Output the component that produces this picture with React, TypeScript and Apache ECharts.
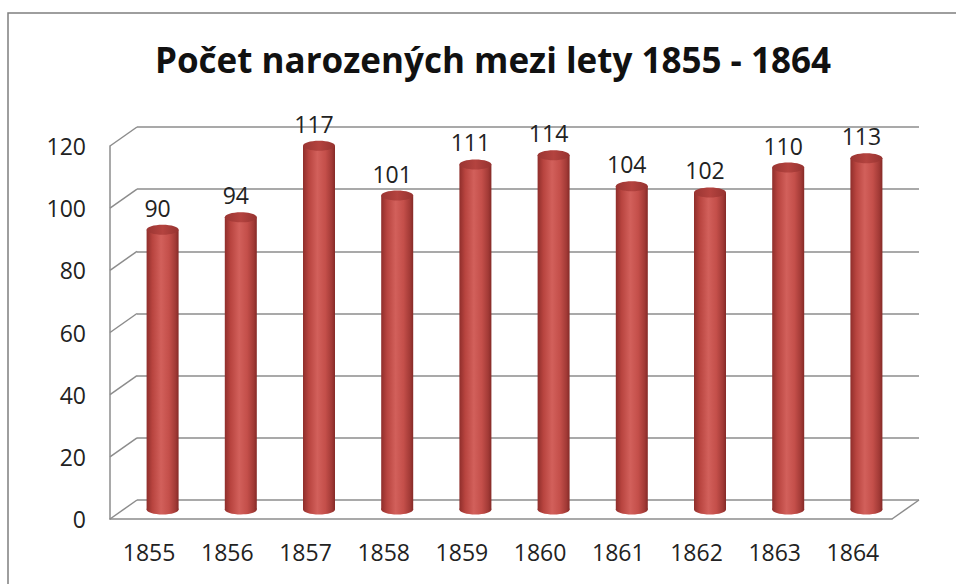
import React, { useEffect, useRef } from "react";
import * as echarts from "echarts";

const TITLE = "Počet narozených mezi lety 1855 - 1864";
const years = ["1855", "1856", "1857", "1858", "1859", "1860", "1861", "1862", "1863", "1864"];
const births = [90, 94, 117, 101, 111, 114, 104, 102, 110, 113];
const yTicks = [0, 20, 40, 60, 80, 100, 120];

const FONT = "'Open Sans', 'Liberation Sans', sans-serif";
const GRID_COLOR = "#8c8c8c";
const DX = 27; // depth offset x
const DY = 19; // depth offset y

export default function App() {
  const ref = useRef<HTMLDivElement>(null);
  useEffect(() => {
    document.body.style.margin = "0";
    if (!ref.current) return;
    const chart = echarts.init(ref.current, null, { renderer: "svg" });

    const back = { left: 137, right: 37, top: 127, bottom: 84 };
    const front = { left: back.left - DX, right: back.right + DX, top: back.top + DY, bottom: back.bottom - DY };
    const mid = { left: back.left - DX / 2, right: back.right + DX / 2, top: back.top + DY / 2, bottom: back.bottom - DY / 2 };

    const bodyGrad = new echarts.graphic.LinearGradient(0, 0, 1, 0, [
      { offset: 0, color: "#8f2e2b" },
      { offset: 0.18, color: "#b8443f" },
      { offset: 0.45, color: "#d2605b" },
      { offset: 0.7, color: "#c44f4a" },
      { offset: 0.9, color: "#a23a36" },
      { offset: 1, color: "#852a27" },
    ]);
    const capGrad = new echarts.graphic.LinearGradient(0, 0, 1, 0, [
      { offset: 0, color: "#9a3532" },
      { offset: 0.5, color: "#b4433f" },
      { offset: 1, color: "#963330" },
    ]);

    chart.setOption({
      animation: false,
      backgroundColor: "#ffffff",
      title: {
        text: TITLE,
        left: 488,
        top: 37,
        textAlign: "center",
        textStyle: { fontFamily: FONT, fontWeight: "bold", fontSize: 35, color: "#111111" },
      },
      graphic: [
        {
          type: "rect",
          shape: { x: 8, y: 13, width: 1000, height: 700 },
          style: { fill: "none", stroke: "#7f7f7f", lineWidth: 1.5 },
          silent: true,
          z: -10,
        },
      ],
      grid: [
        { ...back, containLabel: false },
        { ...front, containLabel: false },
        { ...mid, containLabel: false },
      ],
      xAxis: [
        { gridIndex: 0, type: "value", min: 0, max: 10, show: false },
        {
          gridIndex: 1,
          type: "category",
          data: years,
          axisLine: { show: true, lineStyle: { color: GRID_COLOR, width: 1.5 } },
          axisTick: { show: false },
          axisLabel: { fontFamily: FONT, fontSize: 23, color: "#222222", margin: 21 },
        },
        { gridIndex: 2, type: "category", data: years, show: false },
      ],
      yAxis: [
        {
          gridIndex: 0,
          type: "value",
          min: 0,
          max: 120,
          interval: 20,
          axisLine: { show: false },
          axisTick: { show: false },
          axisLabel: { show: false },
          splitLine: { show: true, lineStyle: { color: GRID_COLOR, width: 1.5 } },
        },
        {
          gridIndex: 1,
          type: "value",
          min: 0,
          max: 120,
          interval: 20,
          axisLine: { show: true, lineStyle: { color: GRID_COLOR, width: 1.5 } },
          axisTick: { show: false },
          splitLine: { show: false },
          axisLabel: { fontFamily: FONT, fontSize: 23, color: "#222222", margin: 24 },
        },
        { gridIndex: 2, type: "value", min: 0, max: 120, show: false },
      ],
      series: [
        {
          type: "custom",
          name: "walls",
          xAxisIndex: 0,
          yAxisIndex: 0,
          silent: true,
          data: yTicks.map((v) => [0, v]),
          renderItem: (params: any, api: any) => {
            const p = api.coord([api.value(0), api.value(1)]);
            const children: any[] = [
              {
                type: "line",
                shape: { x1: p[0], y1: p[1], x2: p[0] - DX, y2: p[1] + DY },
                style: { stroke: GRID_COLOR, lineWidth: 1.5 },
              },
            ];
            if (api.value(1) === 0) {
              const r = api.coord([10, 0]);
              children.push({
                type: "line",
                shape: { x1: r[0], y1: r[1], x2: r[0] - DX, y2: r[1] + DY },
                style: { stroke: GRID_COLOR, lineWidth: 1.5 },
              });
            }
            return { type: "group", children };
          },
        },
        {
          type: "custom",
          name: "Narození",
          xAxisIndex: 2,
          yAxisIndex: 2,
          data: births.map((v, i) => [i, v]),
          z: 5,
          renderItem: (params: any, api: any) => {
            const idx = api.value(0);
            const val = api.value(1);
            const top = api.coord([idx, val]);
            const base = api.coord([idx, 0]);
            const w = 32;
            const rx = w / 2;
            const ry = 5;
            const x = top[0] - rx;
            return {
              type: "group",
              children: [
                {
                  type: "ellipse",
                  shape: { cx: top[0], cy: base[1], rx, ry },
                  style: { fill: bodyGrad },
                },
                {
                  type: "rect",
                  shape: { x, y: top[1], width: w, height: base[1] - top[1] },
                  style: { fill: bodyGrad },
                },
                {
                  type: "ellipse",
                  shape: { cx: top[0], cy: top[1], rx, ry },
                  style: { fill: capGrad },
                },
                {
                  type: "text",
                  style: {
                    text: String(val),
                    x: top[0] - 5,
                    y: top[1] - 22,
                    align: "center",
                    verticalAlign: "middle",
                    fontFamily: FONT,
                    fontSize: 23,
                    fill: "#222222",
                  },
                },
              ],
            };
          },
        },
      ],
    });
    return () => chart.dispose();
  }, []);
  return <div ref={ref} style={{ width: 956, height: 584 }} />;
}
